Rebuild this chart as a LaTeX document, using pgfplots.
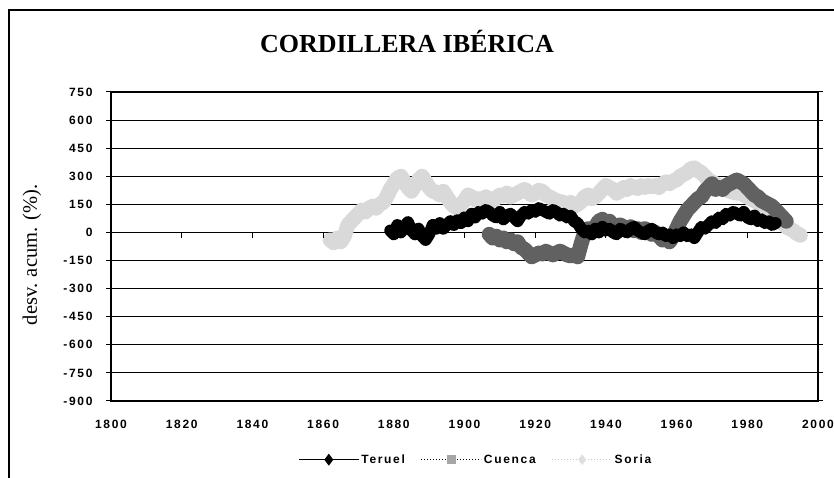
\documentclass[border=0pt]{standalone}
\usepackage{fontspec}
\setmainfont{Liberation Serif}
\newfontfamily\tickfont[LetterSpace=14]{Liberation Sans}
\usepackage{pgfplots}
\usepackage{pgfplotstable}
\pgfplotsset{compat=1.18}

\pgfplotstableread{
year val
1862 -40
1863 -55
1864 -30
1865 -50
1866 -20
1867 40
1868 60
1869 80
1870 100
1871 120
1872 110
1873 130
1874 140
1875 130
1876 150
1877 160
1878 190
1879 230
1880 260
1881 290
1882 300
1883 270
1884 240
1885 220
1886 250
1887 280
1888 300
1889 270
1890 240
1891 220
1892 215
1893 200
1894 220
1895 190
1896 160
1897 140
1898 130
1899 150
1900 170
1901 200
1902 190
1903 175
1904 180
1905 165
1906 190
1907 180
1908 170
1909 185
1910 200
1911 195
1912 210
1913 190
1914 200
1915 210
1916 220
1917 230
1918 215
1919 200
1920 210
1921 225
1922 220
1923 200
1924 190
1925 180
1926 170
1927 165
1928 160
1929 150
1930 160
1931 140
1932 150
1933 165
1934 190
1935 200
1936 180
1937 190
1938 210
1939 230
1940 250
1941 240
1942 230
1943 210
1944 220
1945 240
1946 230
1947 250
1948 240
1949 235
1950 250
1951 240
1952 250
1953 245
1954 250
1955 240
1956 260
1957 270
1958 260
1959 275
1960 280
1961 300
1962 310
1963 320
1964 340
1965 345
1966 330
1967 320
1968 300
1969 280
1970 270
1971 260
1972 250
1973 240
1974 230
1975 220
1976 215
1977 210
1978 220
1979 200
1980 190
1981 180
1982 170
1983 160
1984 150
1985 130
1986 120
1987 100
1988 80
1989 70
1990 50
1991 30
1992 20
1993 10
1994 -5
1995 -15
}\soria

\pgfplotstableread{
year val
1907 -10
1908 -30
1909 -20
1910 -40
1911 -30
1912 -50
1913 -40
1914 -60
1915 -50
1916 -80
1917 -90
1918 -110
1919 -130
1920 -120
1921 -110
1922 -115
1923 -100
1924 -110
1925 -120
1926 -110
1927 -100
1928 -110
1929 -120
1930 -125
1931 -120
1932 -130
1933 -60
1934 0
1935 20
1936 10
1937 30
1938 60
1939 70
1940 50
1941 60
1942 30
1943 20
1944 40
1945 30
1946 20
1947 30
1948 10
1949 20
1950 0
1951 20
1952 10
1953 -10
1954 0
1955 -20
1956 -40
1957 -30
1958 -50
1959 -20
1960 20
1961 60
1962 90
1963 120
1964 140
1965 160
1966 180
1967 190
1968 220
1969 240
1970 260
1971 230
1972 240
1973 230
1974 250
1975 260
1976 270
1977 280
1978 270
1979 260
1980 240
1981 220
1982 200
1983 190
1984 170
1985 160
1986 150
1987 140
1988 120
1989 100
1990 80
1991 60
}\cuenca

\pgfplotstableread{
year val
1879 10
1880 -10
1881 40
1882 0
1883 30
1884 55
1885 10
1886 -10
1887 20
1888 -20
1889 -40
1890 -10
1891 40
1892 20
1893 50
1894 20
1895 40
1896 60
1897 40
1898 65
1899 50
1900 80
1901 60
1902 100
1903 80
1904 110
1905 100
1906 120
1907 110
1908 90
1909 80
1910 110
1911 70
1912 90
1913 100
1914 80
1915 60
1916 90
1917 110
1918 100
1919 120
1920 110
1921 130
1922 120
1923 110
1924 100
1925 120
1926 110
1927 90
1928 100
1929 80
1930 90
1931 60
1932 50
1933 20
1934 0
1935 10
1936 -10
1937 20
1938 0
1939 30
1940 10
1941 20
1942 0
1943 -10
1944 20
1945 10
1946 0
1947 20
1948 30
1949 10
1950 0
1951 -10
1952 10
1953 20
1954 0
1955 -10
1956 0
1957 -20
1958 -10
1959 -30
1960 -10
1961 -20
1962 0
1963 -20
1964 -10
1965 -30
1966 0
1967 30
1968 20
1969 40
1970 60
1971 50
1972 80
1973 70
1974 100
1975 90
1976 110
1977 100
1978 90
1979 110
1980 80
1981 70
1982 90
1983 60
1984 70
1985 50
1986 60
1987 40
1988 50
}\teruel

\begin{document}
\begin{tikzpicture}[x=1pt,y=1pt]
\useasboundingbox (0,0) rectangle (834,478);
\draw[line width=1.2pt] (9,0) -- (9,468) -- (834,468);
\node at (407,437) {\fontsize{26}{26}\selectfont\bfseries CORDILLERA IB\'ERICA};
\node[rotate=90] at (32,223) {\fontsize{20.5}{20.5}\selectfont desv. acum. (\%).};
\begin{axis}[
  at={(111pt,77pt)}, anchor=south west,
  width=707pt, height=309pt, scale only axis,
  xmin=1800, xmax=2000, ymin=-900, ymax=750,
  xtick={1800,1820,1840,1860,1880,1900,1920,1940,1960,1980,2000},
  xticklabels={1800,1820,1840,1860,1880,1900,1920,1940,1960,1980,2000},
  ytick={-900,-750,-600,-450,-300,-150,0,150,300,450,600,750},
  yticklabels={-900,-750,-600,-450,-300,-150,0,150,300,450,600,750},
  x tick style={draw=none},
  y tick style={black, line width=1pt},
  major tick length=5pt,
  tick align=outside,
  ymajorgrids,
  grid style={black, line width=1pt},
  axis line style={black, line width=1.2pt},
  xticklabel style={font=\tickfont\bfseries\fontsize{12}{12}\selectfont, yshift=-11pt},
  yticklabel style={font=\tickfont\bfseries\fontsize{12}{12}\selectfont, xshift=-10pt},
  legend columns=3,
  legend style={at={(0.516,-0.19)}, anchor=center, draw=none, fill=none,
    font=\tickfont\bfseries\fontsize{12}{12}\selectfont,
    /tikz/every even column/.append style={column sep=14pt}},
  legend image code/.code={\draw[mark repeat=2,mark phase=2] plot coordinates {(0pt,0pt) (30pt,0pt) (60pt,0pt)};},
]
\addplot[forget plot, gray!30, line width=15pt, line join=round, line cap=round] table[x=year,y=val] {\soria};
\addplot[forget plot, black!62, line width=15pt, line join=round, line cap=round] table[x=year,y=val] {\cuenca};
\addplot[forget plot, black, line width=12pt, line join=round, line cap=round] table[x=year,y=val] {\teruel};
\pgfplotsinvokeforeach{1820,1840,1860,1880,1900,1920,1940,1960,1980}{
  \draw[black, line width=1pt] (axis cs:#1,0) -- (axis cs:#1,-30);
}
\addlegendimage{black, line width=1.2pt, mark=diamond*, mark size=5pt}
\addlegendentry{Teruel}
\addlegendimage{black, dotted, line width=1pt, mark=square*, mark size=4pt, mark options={solid, fill=gray!70, draw=gray!70}}
\addlegendentry{Cuenca}
\addlegendimage{gray!45, dotted, line width=1pt, mark=diamond*, mark size=4.5pt, mark options={solid, fill=gray!25, draw=gray!25}}
\addlegendentry{Soria}
\end{axis}
\end{tikzpicture}
\end{document}
